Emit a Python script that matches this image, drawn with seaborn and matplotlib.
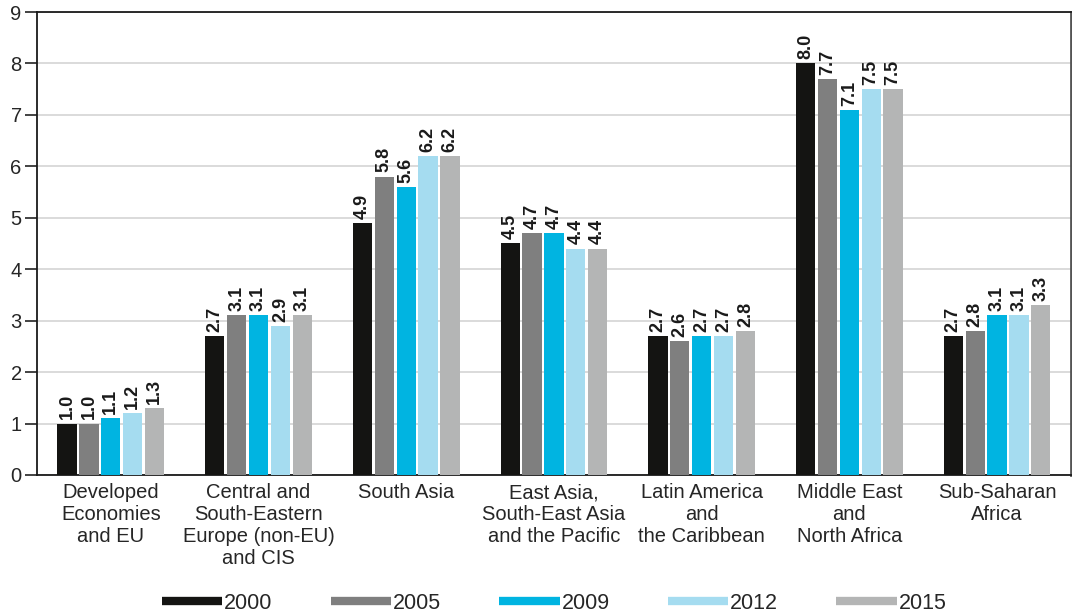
import matplotlib
matplotlib.use("Agg")
import matplotlib.pyplot as plt
from matplotlib.lines import Line2D
import numpy as np
import pandas as pd
import seaborn as sns

regions = [
    "Developed\nEconomies\nand EU",
    "Central and\nSouth-Eastern\nEurope (non-EU)\nand CIS",
    "South Asia",
    "East Asia,\nSouth-East Asia\nand the Pacific",
    "Latin America\nand\nthe Caribbean",
    "Middle East\nand\nNorth Africa",
    "Sub-Saharan\nAfrica",
]
years = ["2000", "2005", "2009", "2012", "2015"]

v2000 = [1.0, 2.7, 4.9, 4.5, 2.7, 8.0, 2.7]
v2005 = [1.0, 3.1, 5.8, 4.7, 2.6, 7.7, 2.8]
v2009 = [1.1, 3.1, 5.6, 4.7, 2.7, 7.1, 3.1]
v2012 = [1.2, 2.9, 6.2, 4.4, 2.7, 7.5, 3.1]
v2015 = [1.3, 3.1, 6.2, 4.4, 2.8, 7.5, 3.3]

colors = ["#141412", "#7f7f7f", "#00b4e1", "#a5dcf0", "#b4b5b5"]

series = [v2000, v2005, v2009, v2012, v2015]
df = pd.DataFrame(
    [(r, y, v) for y, vals in zip(years, series) for r, v in zip(regions, vals)],
    columns=["region", "year", "value"],
)

sns.set_theme(style="white")
plt.rcParams["font.family"] = ["Liberation Sans", "DejaVu Sans"]
text_color = "#262626"
fs = 14.5

fig = plt.figure(figsize=(10.72, 6.16), dpi=100)
ax = fig.add_axes([0.0345, 0.229, 0.9645, 0.7515])

sns.barplot(
    data=df, x="region", y="value", hue="year", order=regions, hue_order=years,
    palette=colors, saturation=1, width=0.74, gap=0.12, legend=False, ax=ax,
    linewidth=0, zorder=3,
)

for cont in ax.containers:
    labels = [f"{b.get_height():.1f}" for b in cont]
    ax.bar_label(cont, labels=labels, rotation=90, padding=3, fontsize=13,
                 fontweight="bold", color="#1a1a1a")

ax.set_ylim(0, 9)
ax.set_xlim(-0.5, len(regions) - 0.5)
ax.set_yticks(range(0, 10))
ax.yaxis.grid(True, color="#d4d4d4", linewidth=1.2, zorder=0)
ax.set_axisbelow(True)

ax.set_xlabel("")
ax.set_ylabel("")
ax.set_xticks(range(len(regions)))
ax.set_xticklabels(regions, fontsize=fs, color=text_color, linespacing=1.2,
                   va="top")
ax.tick_params(axis="x", which="major", length=0, pad=6)
ax.set_xticks(np.arange(-0.5, len(regions), 1.0), minor=True)
ax.tick_params(axis="x", which="minor", length=8, width=1.2, color="#333333",
               direction="out")
ax.tick_params(axis="y", length=9, width=1.2, color="#222222", pad=2,
               labelsize=fs, labelcolor=text_color, left=True)

for side in ["left", "bottom", "top"]:
    ax.spines[side].set_visible(True)
    ax.spines[side].set_color("#1a1a1a")
    ax.spines[side].set_linewidth(1.3)
ax.spines["right"].set_visible(True)
ax.spines["right"].set_color("#555555")
ax.spines["right"].set_linewidth(2)

handles = [Line2D([0], [0], color=c, linewidth=6, solid_capstyle="butt")
           for c in colors]
fig.legend(handles, years, loc="center", bbox_to_anchor=(0.517, 0.021),
           ncol=5, frameon=False, fontsize=15.5, handlelength=2.8,
           handletextpad=0.1, columnspacing=2.7, labelcolor=text_color)

fig.savefig("out.png", dpi=100)
